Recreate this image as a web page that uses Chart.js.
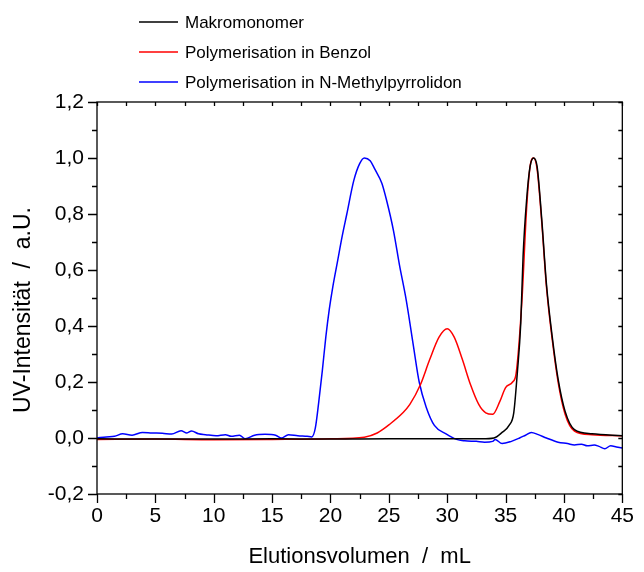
<!DOCTYPE html>
<html>
<head>
<meta charset="utf-8">
<script src="https://cdn.jsdelivr.net/npm/chart.js@4.4.0/dist/chart.umd.min.js"></script>
<style>
  html, body { margin: 0; padding: 0; background: #fff; }
</style>
</head>
<body>
<canvas id="gpcChart" width="644" height="572"></canvas>
<script>
// ---------------- data ----------------
const seriesLabels = ['Makromonomer', 'Polymerisation in Benzol', 'Polymerisation in N-Methylpyrrolidon'];
const seriesColors = ['#000000', '#ff0000', '#0000ff'];

// Makromonomer
const macroVolume = [0, 5, 10, 15, 20, 25, 30, 33, 34, 34.7, 35.3, 35.7, 36.0, 36.3, 36.5, 36.8, 37.1, 37.4, 37.7, 38.1, 38.5, 39.0, 39.5, 40.1, 40.9, 42.4, 45];
const macroSignal = [-0.003, -0.004, -0.004, -0.003, -0.004, -0.003, -0.003, -0.003, 0.0, 0.02, 0.045, 0.09, 0.23, 0.41, 0.65, 0.85, 0.97, 1.0, 0.97, 0.78, 0.55, 0.36, 0.21, 0.095, 0.03, 0.015, 0.008];

// Polymerisation in Benzol
const benzolVolume = [0, 5, 10, 15, 20, 22.9, 24.0, 25.1, 26.2, 26.8, 27.7, 28.5, 29.3, 30.0, 30.6, 31.3, 32.0, 32.7, 33.3, 33.9, 34.5, 35.0, 35.6, 35.9, 36.4, 36.8, 37.1, 37.4, 37.7, 38.1, 38.5, 39.0, 39.5, 40.1, 40.9, 42.4, 45];
const benzolSignal = [-0.005, -0.004, -0.006, -0.005, -0.003, 0.003, 0.018, 0.05, 0.09, 0.12, 0.19, 0.28, 0.36, 0.39, 0.36, 0.28, 0.19, 0.12, 0.09, 0.085, 0.13, 0.18, 0.20, 0.23, 0.49, 0.82, 0.97, 1.0, 0.96, 0.77, 0.54, 0.35, 0.2, 0.085, 0.025, 0.012, 0.008];

// Polymerisation in N-Methylpyrrolidon
const nmpVolume = [0, 0.8, 1.5, 2.2, 3.0, 3.9, 4.7, 5.6, 6.4, 7.2, 7.7, 8.1, 8.7, 9.3, 10.2, 11.0, 11.5, 12.2, 12.7, 13.5, 14.4, 15.3, 15.8, 16.4, 17.2, 18.0, 18.4, 18.7, 19.0, 19.3, 19.6, 19.9, 20.2, 20.6, 21.0, 21.4, 22.0, 22.5, 22.9, 23.4, 23.8, 24.4, 24.8, 25.4, 25.9, 26.5, 27.1, 27.6, 28.2, 28.9, 29.9, 30.8, 31.5, 32.5, 33.2, 33.9, 34.1, 34.7, 35.5, 36.2, 36.7, 37.2, 37.8, 38.5, 39.5, 40.3, 40.9, 41.5, 42.0, 42.6, 43.0, 43.5, 44.0, 44.5, 45];
const nmpSignal = [0.0, 0.004, 0.006, 0.015, 0.01, 0.02, 0.018, 0.017, 0.014, 0.026, 0.018, 0.025, 0.015, 0.012, 0.008, 0.012, 0.006, 0.01, -0.003, 0.01, 0.013, 0.01, 0.0, 0.012, 0.008, 0.006, 0.004, 0.035, 0.13, 0.24, 0.36, 0.46, 0.54, 0.63, 0.72, 0.80, 0.92, 0.98, 1.0, 0.99, 0.96, 0.91, 0.85, 0.74, 0.62, 0.49, 0.33, 0.20, 0.11, 0.045, 0.015, -0.005, -0.01, -0.012, -0.015, -0.012, -0.005, -0.02, -0.012, 0.0, 0.01, 0.02, 0.012, 0.0, -0.015, -0.02, -0.025, -0.022, -0.028, -0.025, -0.03, -0.038, -0.028, -0.032, -0.036];

// axis ranges
const xMin = 0, xMax = 45, xStep = 5, xMinorStep = 2.5;
const yMin = -0.2, yMax = 1.2, yStep = 0.2, yMinorStep = 0.1;
const yTitle = 'UV-Intensität  /  a.U.';

const FONT = '"Liberation Sans", Arial, sans-serif';

function toPoints(xs, ys) {
    return xs.map((x, i) => ({ x: x, y: ys[i] }));
}

// ---------------- frame + ticks (like Origin) ----------------
const frameTicksPlugin = {
    id: 'frameTicks',
    afterDraw: (chart) => {
        const ctx = chart.ctx;
        const a = chart.chartArea;
        const xs = chart.scales.x, ys = chart.scales.y;
        ctx.save();
        ctx.strokeStyle = '#000';
        ctx.lineWidth = 1.3;
        ctx.strokeRect(a.left, a.top, a.right - a.left, a.bottom - a.top);
        ctx.beginPath();
        // bottom (outside) + top (inside)
        for (let v = xMin; v <= xMax + 1e-9; v += xMinorStep) {
            const px = Math.round(xs.getPixelForValue(v)) + 0.5;
            const major = Math.abs(v / xStep - Math.round(v / xStep)) < 1e-6;
            ctx.moveTo(px, a.bottom);
            ctx.lineTo(px, a.bottom + (major ? 9 : 5));
            ctx.moveTo(px, a.top);
            ctx.lineTo(px, a.top + 4);
        }
        // left (outside) + right (inside)
        for (let v = yMin; v <= yMax + 1e-9; v += yMinorStep) {
            const py = Math.round(ys.getPixelForValue(v)) + 0.5;
            const major = Math.abs(v / yStep - Math.round(v / yStep)) < 1e-6;
            ctx.moveTo(a.left, py);
            ctx.lineTo(a.left - (major ? 9 : 5), py);
            ctx.moveTo(a.right, py);
            ctx.lineTo(a.right - 4, py);
        }
        ctx.stroke();

        // y axis title, sitting a little below the plot centre as in the original
        ctx.translate(24, 310);
        ctx.rotate(-Math.PI / 2);
        ctx.font = '23px ' + FONT;
        ctx.textAlign = 'center';
        ctx.textBaseline = 'middle';
        ctx.fillStyle = '#000';
        ctx.fillText(yTitle, 0, 0);
        ctx.restore();
    }
};

// ---------------- stacked legend at the top ----------------
const stackedLegendPlugin = {
    id: 'stackedLegend',
    afterDraw: (chart) => {
        const ctx = chart.ctx;
        ctx.save();
        ctx.font = '17px ' + FONT;
        ctx.textBaseline = 'middle';
        ctx.fillStyle = '#000';
        chart.data.datasets.forEach((ds, i) => {
            const y = 22 + i * 30;
            ctx.beginPath();
            ctx.strokeStyle = ds.borderColor;
            ctx.lineWidth = 1.5;
            ctx.moveTo(139, y);
            ctx.lineTo(178, y);
            ctx.stroke();
            ctx.fillText(ds.label, 185, y + 1);
        });
        ctx.restore();
    }
};

const datasets = [
    toPoints(macroVolume, macroSignal),
    toPoints(benzolVolume, benzolSignal),
    toPoints(nmpVolume, nmpSignal)
].map((pts, i) => ({
    label: seriesLabels[i],
    data: pts,
    borderColor: seriesColors[i],
    borderWidth: 1.5,
    pointRadius: 0,
    fill: false,
    cubicInterpolationMode: 'monotone'
}));

const gpcChart = new Chart(document.getElementById('gpcChart').getContext('2d'), {
    type: 'line',
    data: { datasets: datasets },
    options: {
        responsive: false,
        animation: false,
        layout: { padding: { top: 102, right: 14, left: 0, bottom: 0 } },
        plugins: {
            legend: { display: false },
            tooltip: { enabled: false }
        },
        scales: {
            x: {
                type: 'linear',
                min: xMin,
                max: xMax,
                afterFit: (s) => { s.height = 78; },
                grid: { display: false, drawTicks: false },
                border: { display: false },
                ticks: {
                    stepSize: xStep,
                    autoSkip: false,
                    maxRotation: 0,
                    padding: 10,
                    color: '#000',
                    font: { family: FONT, size: 21 }
                },
                title: {
                    display: true,
                    text: 'Elutionsvolumen  /  mL',
                    color: '#000',
                    font: { family: FONT, size: 22 },
                    padding: { top: 0, bottom: 2 }
                }
            },
            y: {
                min: yMin,
                max: yMax,
                afterFit: (s) => { s.width = 97; },
                grid: { display: false, drawTicks: false },
                border: { display: false },
                ticks: {
                    stepSize: yStep,
                    padding: 13,
                    color: '#000',
                    font: { family: FONT, size: 21 },
                    callback: (v) => (Math.abs(v) < 1e-9 ? 0 : v).toFixed(1).replace('.', ',')
                },
                title: { display: false }
            }
        }
    },
    plugins: [frameTicksPlugin, stackedLegendPlugin]
});
</script>
</body>
</html>
